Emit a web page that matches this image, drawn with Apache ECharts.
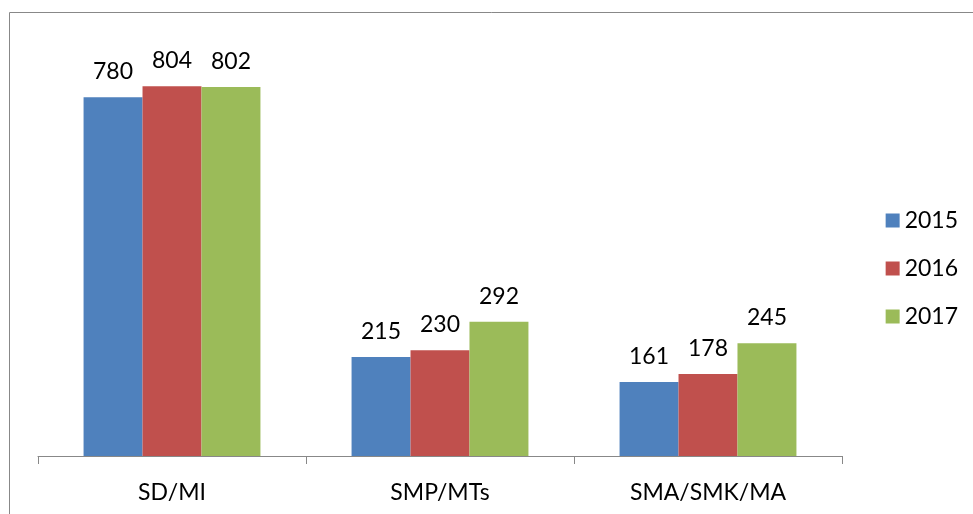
<!DOCTYPE html>
<html><head><meta charset="utf-8">
<script src="https://cdn.jsdelivr.net/npm/echarts@6/dist/echarts.min.js"></script>
<style>html,body{margin:0;padding:0;background:#fff}#c{width:973px;height:514px}</style>
</head><body><div id="c"></div>
<script>
const categories = ['SD/MI', 'SMP/MTs', 'SMA/SMK/MA'];
const seriesNames = ['2015', '2016', '2017'];
const values2015 = [780, 215, 161];
const values2016 = [804, 230, 178];
const values2017 = [802, 292, 245];
const colors = ['#4F81BD', '#C0504D', '#9BBB59'];
const font = 'Lato, "Open Sans", sans-serif';
const chart = echarts.init(document.getElementById('c'));
const data = [values2015, values2016, values2017];
chart.setOption({
  animation: false,
  graphic: [{type: 'rect', shape: {x: 9.5, y: 12.5, width: 1000, height: 600}, style: {fill: 'none', stroke: '#888', lineWidth: 1}}],
  grid: {left: 38, right: 131, top: 42, bottom: 58},
  legend: {
    orient: 'vertical', right: 10, top: 204, itemWidth: 14, itemHeight: 14, itemGap: 25,
    icon: 'rect', textStyle: {fontFamily: font, fontSize: 23, color: '#000'}
  },
  xAxis: {
    type: 'category', data: categories,
    axisLine: {lineStyle: {color: '#888'}},
    axisTick: {show: true, length: 8, lineStyle: {color: '#888'}},
    axisLabel: {fontFamily: font, fontSize: 23, color: '#000', margin: 25}
  },
  yAxis: {type: 'value', min: 0, max: 900, show: false, splitLine: {show: false}},
  series: seriesNames.map((n, i) => ({
    name: n, type: 'bar', data: data[i], barGap: '0%', barCategoryGap: '34%',
    itemStyle: {color: colors[i]},
    label: {show: true, position: 'top', distance: 14, fontFamily: font, fontSize: 23, color: '#000'}
  }))
});
</script></body></html>
